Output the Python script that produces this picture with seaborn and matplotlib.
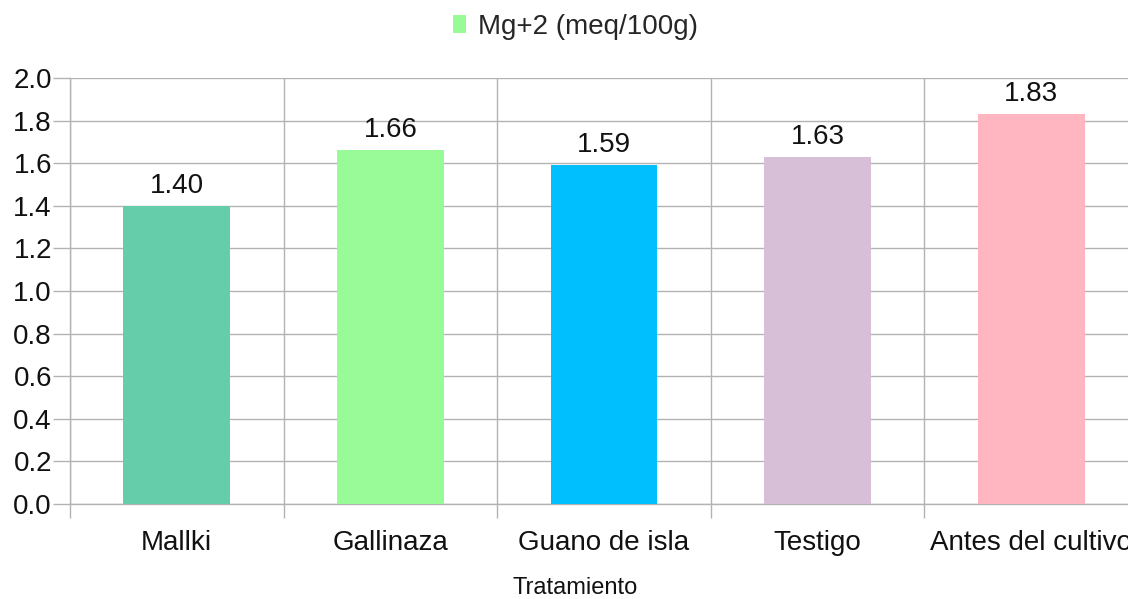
import matplotlib
matplotlib.use("Agg")
import matplotlib.pyplot as plt
from matplotlib.patches import Patch
from matplotlib.ticker import FixedLocator, MultipleLocator
import seaborn as sns
import pandas as pd

categories = ["Mallki", "Gallinaza", "Guano de isla", "Testigo", "Antes del cultivo"]
values = [1.40, 1.66, 1.59, 1.63, 1.83]
colors = ["#66CDAA", "#98FB98", "#00BFFF", "#D8BFD8", "#FFB6C1"]
series_name = "Mg+2 (meq/100g)"
legend_color = "#98FB98"
x_label = "Tratamiento"

sns.set_theme(style="white")
plt.rcParams["font.family"] = ["Liberation Sans", "DejaVu Sans"]

df = pd.DataFrame({"Tratamiento": categories, "valor": values})

fig = plt.figure(figsize=(11.28, 5.99), dpi=100)
W, H = 1128, 599
left, right, top, bottom = 70, 1138, 78, 504
ax = fig.add_axes([left / W, 1 - bottom / H, (right - left) / W, (bottom - top) / H])

sns.barplot(data=df, x="Tratamiento", y="valor", hue="Tratamiento",
            palette=colors, width=0.5, ax=ax, legend=False, saturation=1,
            order=categories, hue_order=categories, zorder=3, linewidth=0)

FS = 20
for c in ax.containers:
    ax.bar_label(c, fmt="%.2f", padding=5, fontsize=FS, color="#111111")

grid_c = "#b3b3b3"
ax.set_xlim(-0.5, len(categories) - 0.5)
ax.set_ylim(0, 2.0)
ax.yaxis.set_major_locator(MultipleLocator(0.2))
ax.yaxis.set_major_formatter(matplotlib.ticker.FormatStrFormatter("%.1f"))
ax.xaxis.set_minor_locator(FixedLocator([i - 0.5 for i in range(len(categories) + 1)]))
ax.grid(axis="y", which="major", color=grid_c, linewidth=1, zorder=0)
ax.grid(axis="x", which="minor", color=grid_c, linewidth=1, zorder=0)
ax.grid(axis="x", which="major", visible=False)

ax.tick_params(axis="y", which="major", length=12, width=1, color=grid_c,
               labelsize=FS, labelcolor="#111111", pad=1, left=True)
ax.tick_params(axis="x", which="major", length=0, labelsize=FS,
               labelcolor="#111111", pad=19)
ax.tick_params(axis="x", which="minor", length=10, width=1, color=grid_c, bottom=True)

for s in ["top", "right"]:
    ax.spines[s].set_visible(False)
for s in ["left", "bottom"]:
    ax.spines[s].set_color(grid_c)
    ax.spines[s].set_linewidth(1)

ax.set_ylabel("")
ax.set_xlabel("")
fig.text(575 / W, 1 - 588 / H, x_label, ha="center", va="center",
         fontsize=17, color="#111111")

handle = Patch(facecolor=legend_color, edgecolor="none")
fig.legend([handle], [series_name], loc="center", bbox_to_anchor=(575 / W, 1 - 27 / H),
           frameon=False, fontsize=FS, handlelength=0.5, handleheight=0.6,
           handletextpad=0.4, borderaxespad=0)

fig.savefig("out.png", dpi=100)
